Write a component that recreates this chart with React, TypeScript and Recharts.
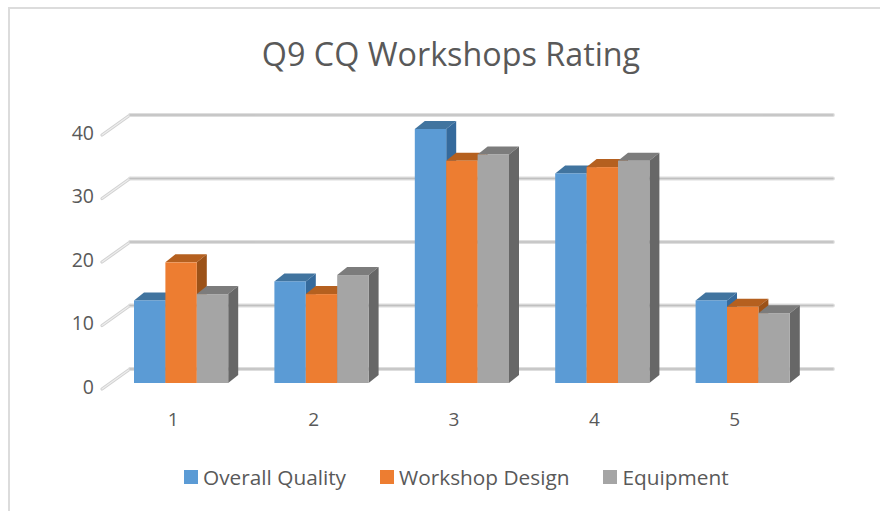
import React from "react";
import { BarChart, Bar, XAxis, YAxis, CartesianGrid, Legend } from "recharts";

const title = "Q9 CQ Workshops Rating";
const categories = ["1", "2", "3", "4", "5"];
const overallQuality = [13, 16, 40, 33, 13];
const workshopDesign = [19, 14, 35, 34, 12];
const equipment = [14, 17, 36, 35, 11];
const yTicks = [0, 10, 20, 30, 40];

const rows = categories.map((c, i) => ({
  category: c,
  "Overall Quality": overallQuality[i],
  "Workshop Design": workshopDesign[i],
  Equipment: equipment[i],
}));

const FONT = "'Open Sans', sans-serif";
const TEXT = "#595959";
const DX = 10;
const DY = 8;
const SHIFT = 8;

const make3D = (front: string, top: string, side: string) => (p: any) => {
  const { y, width, height } = p;
  const x = p.x + SHIFT;
  const r = x + width;
  const b = y + height;
  return (
    <g>
      <polygon points={`${x},${y} ${x + DX},${y - DY} ${r + DX},${y - DY} ${r},${y}`} fill={top} />
      <polygon points={`${r},${y} ${r + DX},${y - DY} ${r + DX},${b - DY} ${r},${b}`} fill={side} />
      <rect x={x} y={y} width={width} height={height} fill={front} />
    </g>
  );
};

const gridLine = (p: any) => {
  const { x1, x2, y1 } = p;
  const diag = `${x1 - 1},${y1 + 6} ${x1 + 27},${y1 - 14}`;
  const back = `${x1 + 27},${y1 - 14} ${x2 + 28},${y1 - 14}`;
  return (
    <g key={`g-${y1}`} fill="none" strokeLinecap="round">
      <polyline points={diag} stroke="#d2d2d2" strokeWidth={3.2} />
      <polyline points={diag} stroke="#eeeeee" strokeWidth={1.1} />
      <polyline points={back} stroke="#dedede" strokeWidth={3.8} />
      <polyline points={back} stroke="#c0c0c0" strokeWidth={1.3} />
    </g>
  );
};

const legendContent = (p: any) => (
  <div style={{ display: "flex", alignItems: "center", fontFamily: FONT, fontSize: 20.8, color: TEXT, whiteSpace: "nowrap" }}>
    {(p.payload || []).map((e: any) => (
      <div key={e.value} style={{ display: "flex", alignItems: "center", marginRight: 34 }}>
        <span style={{ width: 14, height: 14, background: e.color, marginRight: 5, display: "inline-block" }} />
        <span>{e.value}</span>
      </div>
    ))}
  </div>
);

export default function App() {
  return (
    <div style={{ position: "absolute", left: 0, top: 0, width: 880, height: 511, background: "#fff", overflow: "hidden" }}>
      <div style={{ position: "absolute", left: 8, top: 7, width: 900, height: 600, border: "2px solid #dcdcdc", boxSizing: "border-box" }} />
      <div style={{ position: "absolute", left: 0, width: 902, top: 31, textAlign: "center", fontFamily: FONT, fontSize: 32.3, lineHeight: "44px", color: TEXT }}>
        {title}
      </div>
      <div style={{ position: "absolute", left: 0, top: 0 }}>
        <BarChart
          width={880}
          height={511}
          data={rows}
          margin={{ top: 129, right: 75, bottom: 68, left: 0 }}
          barSize={31.4}
          barGap={0}
        >
          <CartesianGrid vertical={false} horizontal={gridLine} />
          <XAxis
            dataKey="category"
            axisLine={false}
            tickLine={false}
            tickSize={0}
            tickMargin={30}
            height={60}
            tick={{ fontFamily: FONT, fontSize: 19, fill: TEXT }}
          />
          <YAxis
            domain={[0, 40]}
            ticks={yTicks}
            axisLine={false}
            tickLine={false}
            tickSize={0}
            tickMargin={9}
            width={103}
            tick={{ fontFamily: FONT, fontSize: 19.5, fill: TEXT, dy: 4 }}
          />
          <Legend
            content={legendContent}
            verticalAlign="middle"
            itemSorter={null as any}
            wrapperStyle={{ position: "absolute", left: 184, top: 463, width: 600, bottom: "auto" }}
          />
          <Bar dataKey="Overall Quality" fill="#5b9bd5" isAnimationActive={false} shape={make3D("#5b9bd5", "#41749f", "#356a9c")} />
          <Bar dataKey="Workshop Design" fill="#ed7d31" isAnimationActive={false} shape={make3D("#ed7d31", "#b5601f", "#9c5218")} />
          <Bar dataKey="Equipment" fill="#a5a5a5" isAnimationActive={false} shape={make3D("#a5a5a5", "#7c7c7c", "#676767")} />
        </BarChart>
      </div>
    </div>
  );
}
